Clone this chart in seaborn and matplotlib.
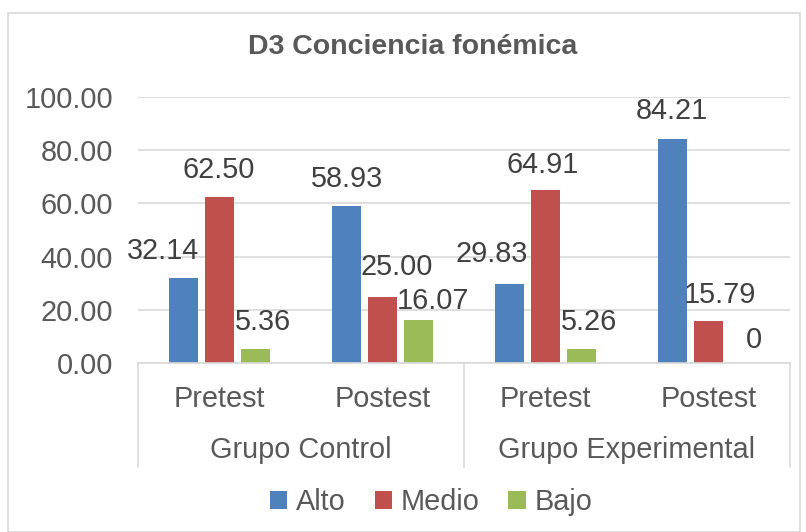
import matplotlib
matplotlib.use("Agg")
import matplotlib.pyplot as plt
import seaborn as sns
import pandas as pd
from matplotlib.patches import Rectangle
from matplotlib.lines import Line2D
import matplotlib.transforms as mtrans
from matplotlib.transforms import offset_copy

groups = ["Grupo Control", "Grupo Experimental"]
tests = ["Pretest", "Postest"]
levels = ["Alto", "Medio", "Bajo"]
alto = [32.14, 58.93, 29.83, 84.21]
medio = [62.50, 25.00, 64.91, 15.79]
bajo = [5.36, 16.07, 5.26, 0]
label_text = {
    "Alto": ["32.14", "58.93", "29.83", "84.21"],
    "Medio": ["62.50", "25.00", "64.91", "15.79"],
    "Bajo": ["5.36", "16.07", "5.26", "0"],
}
# label offsets in pixels (dx, dy) relative to bar top centre
label_off = {
    "Alto": [(-20, 26.5), (0, 27), (-18, 30), (-1, 28)],
    "Medio": [(-1, 27), (14, 29.5), (-3, 25), (11, 26)],
    "Bajo": [(7, 27), (14, 19.6), (8, 27), (9, 23)],
}

cats = [f"{g}|{t}" for g in groups for t in tests]
rows = []
for i, c in enumerate(cats):
    for lev, vals in zip(levels, [alto, medio, bajo]):
        rows.append({"cat": c, "nivel": lev, "valor": vals[i]})
df = pd.DataFrame(rows)

sns.set_theme(style="white")
plt.rcParams["font.family"] = ["Liberation Sans", "DejaVu Sans"]
txt = "#595959"
grid = "#D9D9D9"
colors = ["#4F81BD", "#C0504D", "#9BBB59"]
FS = 20.8

W, H = 806, 532
fig = plt.figure(figsize=(W / 100, H / 100), dpi=100)
fig.patch.set_facecolor("white")
fig.patches.append(Rectangle((8 / W, 0), (W - 14) / W, (H - 13) / H, transform=fig.transFigure,
                             fill=False, edgecolor=grid, linewidth=1.2))

x0, x1, y0, y1 = 138, 790, 363, 97
ax = fig.add_axes([x0 / W, (H - y0) / H, (x1 - x0) / W, (y0 - y1) / H])
sns.barplot(data=df, x="cat", y="valor", hue="nivel", hue_order=levels, order=cats,
            palette=colors, width=0.663, gap=0.22, ax=ax, legend=False,
            edgecolor="none", saturation=1)
ax.set_ylim(0, 100)
ax.set_xlim(-0.5, 3.5)
ax.set_yticks([0, 20, 40, 60, 80, 100])
ax.set_yticklabels([f"{v:.2f}" for v in [0, 20, 40, 60, 80, 100]], fontsize=FS, color=txt)
ax.tick_params(axis="y", length=0, pad=18)
ax.set_xticks([])
ax.set_xlabel("")
ax.set_ylabel("")
for s in ["left", "right", "top"]:
    ax.spines[s].set_visible(False)
ax.spines["bottom"].set_color(grid)
ax.spines["bottom"].set_linewidth(1.2)
ax.yaxis.grid(True, color=grid, linewidth=1.2)
ax.set_axisbelow(True)

# data labels
for k, lev in enumerate(levels):
    cont = ax.containers[k]
    for j, bar in enumerate(cont):
        cx = bar.get_x() + bar.get_width() / 2
        top = bar.get_height()
        dx, dy = label_off[lev][j]
        tr = offset_copy(ax.transData, fig=fig, x=dx * 0.72, y=dy * 0.72, units="points")
        ax.text(cx, top, label_text[lev][j], transform=tr, ha="center", va="center",
                fontsize=FS, color="#404040", clip_on=False)

# two-level category axis
blend = mtrans.blended_transform_factory(ax.transData, ax.transAxes)
ax_h = y0 - y1
for i, t in enumerate([t for g in groups for t in tests]):
    ax.text(i, -(399 - y0) / ax_h, t, transform=blend, ha="center", va="center",
            fontsize=FS, color=txt, clip_on=False)
for gi, g in enumerate(groups):
    ax.text(gi * 2 + 0.5, -(450 - y0) / ax_h, g, transform=blend, ha="center", va="center",
            fontsize=FS, color=txt, clip_on=False)
for xs in [-0.5, 1.5, 3.5]:
    ax.add_line(Line2D([xs, xs], [0, -(467 - y0) / ax_h], transform=blend, color=grid,
                       linewidth=1.2, clip_on=False))

# title
fig.text(413 / W, 1 - 47 / H, "D3 Conciencia fonémica", ha="center", va="center",
         fontsize=20.5, fontweight="bold", color=txt)

# legend
handles = [Rectangle((0, 0), 1, 1, facecolor=c, edgecolor="none") for c in colors]
fig.legend(handles, levels, loc="center", bbox_to_anchor=(431 / W, 1 - 502 / H), ncol=3,
           frameon=False, fontsize=FS, handlelength=0.6, handleheight=0.6,
           handletextpad=0.3, columnspacing=1.0, labelcolor=txt)

fig.savefig("out.png", dpi=100, facecolor="white")
